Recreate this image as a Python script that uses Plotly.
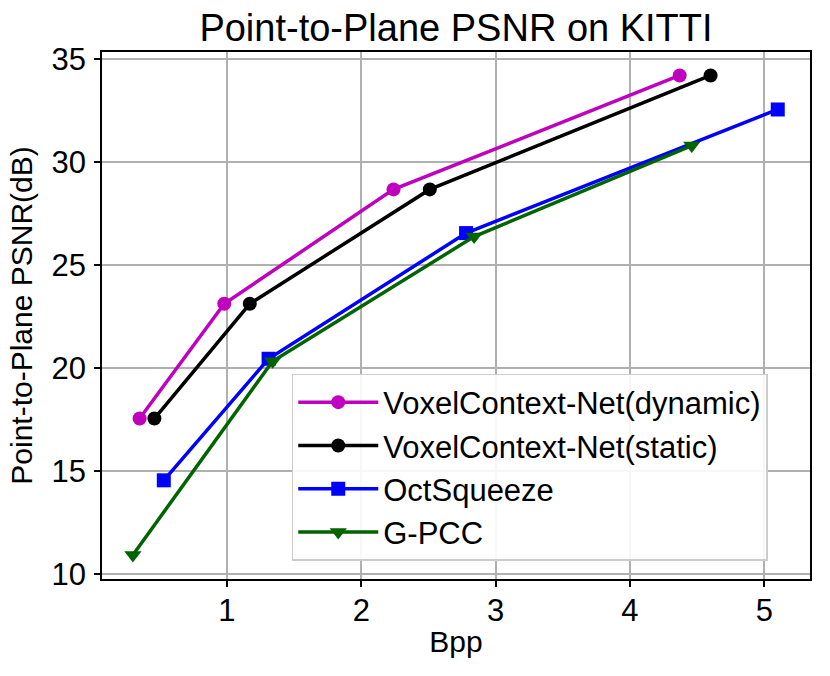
import plotly.graph_objects as go

# Bits per point and point-to-plane PSNR (dB)
bpp_dynamic = [0.35, 0.98, 2.24, 4.37]
psnr_dynamic = [17.55, 23.12, 28.67, 34.20]

bpp_static = [0.46, 1.17, 2.51, 4.60]
psnr_static = [17.55, 23.12, 28.67, 34.20]

bpp_oct = [0.53, 1.31, 2.78, 5.10]
psnr_oct = [14.55, 20.45, 26.55, 32.55]

bpp_gpcc = [0.30, 1.34, 2.84, 4.46]
psnr_gpcc = [10.93, 20.33, 26.38, 30.80]

x_ticks = [1, 2, 3, 4, 5]
y_ticks = [10, 15, 20, 25, 30, 35]

FONT = "Liberation Sans, Arial, sans-serif"

fig = go.Figure()

fig.add_trace(go.Scatter(x=bpp_dynamic, y=psnr_dynamic, mode='lines+markers',
                         name='VoxelContext-Net(dynamic)',
                         line=dict(color='#bf00bf', width=3.5),
                         marker=dict(symbol='circle', size=14, color='#bf00bf')))
fig.add_trace(go.Scatter(x=bpp_static, y=psnr_static, mode='lines+markers',
                         name='VoxelContext-Net(static)',
                         line=dict(color='black', width=3.5),
                         marker=dict(symbol='circle', size=14, color='black')))
fig.add_trace(go.Scatter(x=bpp_oct, y=psnr_oct, mode='lines+markers',
                         name='OctSqueeze',
                         line=dict(color='#0000ff', width=3.5),
                         marker=dict(symbol='square', size=14, color='#0000ff')))
fig.add_trace(go.Scatter(x=bpp_gpcc, y=psnr_gpcc, mode='lines+markers',
                         name='G-PCC',
                         line=dict(color='#006400', width=3.5),
                         marker=dict(symbol='triangle-down', size=15, color='#006400')))

axis_common = dict(showline=True, linecolor='black', linewidth=1.5, mirror=True,
                   ticks='outside', ticklen=6, tickwidth=1.5, tickcolor='black',
                   showgrid=True, gridcolor='#b0b0b0', gridwidth=1.5, zeroline=False,
                   automargin=False,
                   tickfont=dict(family=FONT, size=31, color='black'))

fig.update_xaxes(range=[0.07, 5.34], tickvals=x_ticks, ticklabelstandoff=-3,
                 title=dict(text='Bpp', font=dict(family=FONT, size=30, color='black'), standoff=4),
                 **axis_common)
fig.update_yaxes(range=[9.76, 35.34], tickvals=y_ticks, ticklabelstandoff=2,
                 title=dict(text='Point-to-Plane PSNR(dB)', font=dict(family=FONT, size=30, color='black'), standoff=10),
                 **axis_common)

fig.update_layout(
    width=830, height=676,
    margin=dict(l=102, r=20, t=52, b=97),
    paper_bgcolor='white', plot_bgcolor='white',
    title=dict(text='Point-to-Plane PSNR on KITTI', x=0.5, xref='paper', xanchor='center',
               y=0.959, yref='container', yanchor='middle',
               font=dict(family=FONT, size=38, color='black')),
    legend=dict(x=0.268, y=0.389, xanchor='left', yanchor='top',
                bgcolor='rgba(255,255,255,0.9)', bordercolor='#cccccc', borderwidth=1.5,
                font=dict(family=FONT, size=31, color='black'),
                itemwidth=80, tracegroupgap=0),
    showlegend=True,
)

# drop the default 8 px body margin so the figure sits at the page corner
fig.write_html("out.html", config={'displayModeBar': False},
               post_script="document.body.style.margin='0';")
